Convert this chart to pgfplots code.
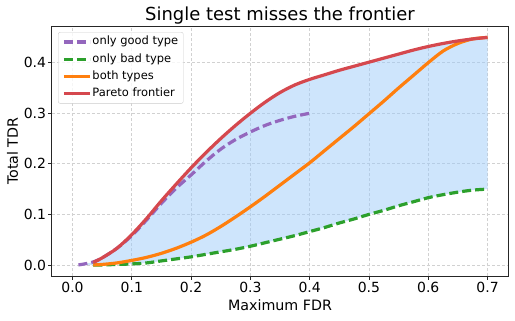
\documentclass[border=0pt]{standalone}
\usepackage{fontspec}
\setmainfont{DejaVu Sans}
\usepackage{pgfplots}
\pgfplotsset{compat=1.18}
\usepgfplotslibrary{fillbetween}

\definecolor{cpurple}{RGB}{148,103,189}
\definecolor{cgreen}{RGB}{44,160,44}
\definecolor{corange}{RGB}{255,127,14}
\definecolor{cred}{RGB}{213,72,78}
\definecolor{cfill}{RGB}{157,203,250}

\begin{document}
\begin{tikzpicture}
\begin{axis}[
    scale only axis,
    width=456bp, height=250bp,
    xmin=-0.035, xmax=0.735,
    ymin=-0.0225, ymax=0.4725,
    xtick={0,0.1,0.2,0.3,0.4,0.5,0.6,0.7},
    ytick={0,0.1,0.2,0.3,0.4},
    /pgf/number format/assume math mode=true,
    xticklabel style={/pgf/number format/fixed, /pgf/number format/fixed zerofill, /pgf/number format/precision=1},
    yticklabel style={/pgf/number format/fixed, /pgf/number format/fixed zerofill, /pgf/number format/precision=1},
    tick label style={font=\fontsize{14}{16}\selectfont, inner sep=2bp},
    tick align=outside, tick pos=left,
    major tick length=3.5bp,
    tick style={black!85, line width=0.8bp},
    axis line style={black!85, line width=0.9bp},
    grid=major,
    grid style={black!18, line width=0.7bp, dash pattern=on 3bp off 2bp},
    every axis title shift=0pt,
    title={Single test misses the frontier},
    title style={at={(axis description cs:0.5,1.022)}, anchor=base, font=\fontsize{18}{20}\selectfont},
    xlabel={Maximum FDR},
    ylabel={Total TDR},
    xlabel style={at={(axis description cs:0.5,-0.136)}, anchor=base, font=\fontsize{14.3}{16}\selectfont},
    ylabel style={at={(axis description cs:-0.074,0.5)}, anchor=base, font=\fontsize{14.3}{16}\selectfont},
    legend cell align=left,
    legend image code/.code={\draw[#1] (0bp,0bp) -- (26bp,0bp);},
    legend style={at={(axis description cs:0.0138,0.976)}, anchor=north west,
        draw=black!20, rounded corners=2bp, fill=white, fill opacity=0.8, text opacity=1,
        font=\fontsize{11.5}{13}\selectfont, row sep=3.7bp, inner xsep=4bp, inner ysep=3bp,
        nodes={inner sep=1bp, text height=8.7bp, text depth=2.8bp}},
]
% region between the frontier and the bad-type curve
\addplot[name path=upper, draw=none, smooth, forget plot] coordinates {
    (0.01,0.0) (0.02,0.002) (0.035,0.006) (0.05,0.014) (0.075,0.033)
    (0.10,0.060) (0.125,0.092) (0.15,0.127) (0.175,0.160) (0.20,0.192)
    (0.225,0.222) (0.25,0.250) (0.275,0.276) (0.30,0.300) (0.325,0.322)
    (0.35,0.341) (0.375,0.356) (0.40,0.367) (0.425,0.376) (0.45,0.385)
    (0.475,0.393) (0.50,0.401) (0.525,0.409) (0.55,0.417) (0.575,0.425)
    (0.60,0.432) (0.625,0.438) (0.65,0.443) (0.675,0.447) (0.70,0.450)
};
\addplot[name path=lower, draw=none, smooth, forget plot] coordinates {
    (0.01,0.0) (0.035,0.0) (0.05,0.0) (0.075,0.001) (0.10,0.002)
    (0.125,0.004) (0.15,0.008) (0.175,0.012) (0.20,0.016) (0.225,0.021)
    (0.25,0.026) (0.275,0.031) (0.30,0.037) (0.325,0.044) (0.35,0.051)
    (0.375,0.058) (0.40,0.066) (0.425,0.074) (0.45,0.083) (0.475,0.091)
    (0.50,0.100) (0.525,0.108) (0.55,0.117) (0.575,0.125) (0.60,0.133)
    (0.625,0.139) (0.65,0.144) (0.675,0.148) (0.70,0.150)
};
\addplot[cfill, fill opacity=0.5, draw=none, forget plot] fill between[of=upper and lower];

% only good type
\addplot[cpurple, line width=3.2bp, dash pattern=on 9bp off 4bp, smooth] coordinates {
    (0.01,0.0) (0.02,0.002) (0.035,0.006) (0.05,0.014) (0.075,0.033)
    (0.10,0.058) (0.125,0.089) (0.15,0.122) (0.175,0.152) (0.20,0.178)
    (0.225,0.205) (0.25,0.229) (0.275,0.248) (0.30,0.263) (0.325,0.276)
    (0.35,0.286) (0.375,0.294) (0.40,0.300)
};
\addlegendentry{only good type}
% only bad type
\addplot[cgreen, line width=3.2bp, dash pattern=on 9bp off 4bp, smooth] coordinates {
    (0.035,0.0) (0.05,0.0) (0.075,0.001) (0.10,0.002)
    (0.125,0.004) (0.15,0.008) (0.175,0.012) (0.20,0.016) (0.225,0.021)
    (0.25,0.026) (0.275,0.031) (0.30,0.037) (0.325,0.044) (0.35,0.051)
    (0.375,0.058) (0.40,0.066) (0.425,0.074) (0.45,0.083) (0.475,0.091)
    (0.50,0.100) (0.525,0.108) (0.55,0.117) (0.575,0.125) (0.60,0.133)
    (0.625,0.139) (0.65,0.144) (0.675,0.148) (0.70,0.150)
};
\addlegendentry{only bad type}
% both types
\addplot[corange, line width=3.2bp, smooth] coordinates {
    (0.035,0.0) (0.05,0.001) (0.075,0.004) (0.10,0.009) (0.125,0.015)
    (0.15,0.023) (0.175,0.033) (0.20,0.045) (0.225,0.059) (0.25,0.076)
    (0.275,0.095) (0.30,0.115) (0.325,0.136) (0.35,0.158) (0.375,0.180)
    (0.40,0.202) (0.425,0.226) (0.45,0.250) (0.475,0.274) (0.50,0.299)
    (0.525,0.324) (0.55,0.350) (0.575,0.375) (0.60,0.400) (0.625,0.423)
    (0.65,0.438) (0.675,0.447) (0.70,0.450)
};
\addlegendentry{both types}
% Pareto frontier
\addplot[cred, line width=3.2bp, smooth] coordinates {
    (0.035,0.005) (0.05,0.014) (0.075,0.033) (0.10,0.060) (0.125,0.092)
    (0.15,0.127) (0.175,0.160) (0.20,0.192) (0.225,0.222) (0.25,0.250)
    (0.275,0.276) (0.30,0.300) (0.325,0.322) (0.35,0.341) (0.375,0.356)
    (0.40,0.367) (0.425,0.376) (0.45,0.385) (0.475,0.393) (0.50,0.401)
    (0.525,0.409) (0.55,0.417) (0.575,0.425) (0.60,0.432) (0.625,0.438)
    (0.65,0.443) (0.675,0.447) (0.70,0.450)
};
\addlegendentry{Pareto frontier}
\end{axis}
\pgfresetboundingbox
\path[use as bounding box] ([shift={(-51.7bp,-44bp)}]current axis.south west)
    rectangle ([shift={(6.7bp,26bp)}]current axis.north east);
\end{tikzpicture}
\end{document}
